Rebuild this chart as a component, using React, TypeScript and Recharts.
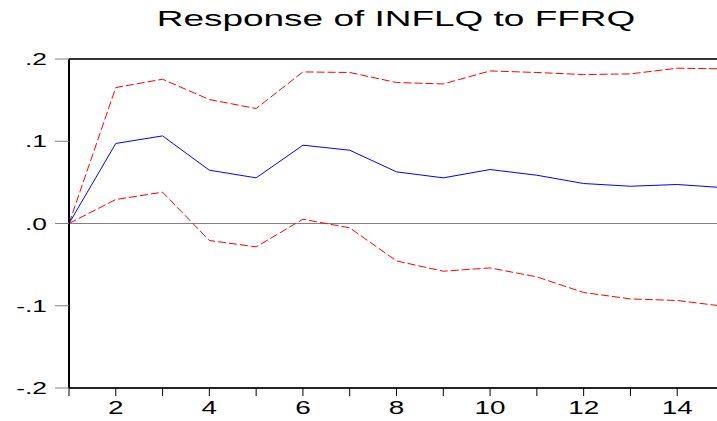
import React from 'react'
import { LineChart, Line, XAxis, YAxis, ReferenceLine } from 'recharts'

const periods = [1, 2, 3, 4, 5, 6, 7, 8, 9, 10, 11, 12, 13, 14, 15]
const response = [0, 0.0973, 0.1065, 0.0648, 0.0555, 0.0952, 0.0891, 0.0628, 0.0555, 0.0656, 0.0587, 0.0486, 0.0453, 0.0474, 0.0435]
const upperBand = [0, 0.1653, 0.1754, 0.1507, 0.1398, 0.1843, 0.1836, 0.1714, 0.1697, 0.1855, 0.1836, 0.1811, 0.1819, 0.1888, 0.188]
const lowerBand = [0, 0.0292, 0.0381, -0.0207, -0.0284, 0.0052, -0.0053, -0.0455, -0.058, -0.054, -0.0649, -0.0839, -0.0917, -0.0936, -0.1007]
const yTicks = [-0.2, -0.1, 0, 0.1, 0.2]
const yTickLabels = ['-.2', '-.1', '.0', '.1', '.2']

const data = periods.map((p, i) => ({
  period: p,
  response: response[i],
  upper: upperBand[i],
  lower: lowerBand[i],
}))

const font = '"Liberation Sans", Arial, sans-serif'
const stretch = 1.55

function YTick({ x, y, payload }: any) {
  const idx = yTicks.indexOf(payload.value)
  return (
    <text
      transform={`translate(${x},${y}) scale(${stretch},1)`}
      textAnchor="end"
      dy="0.355em"
      fontSize={17}
      fontFamily={font}
      fill="#000"
    >
      {idx >= 0 ? yTickLabels[idx] : ''}
    </text>
  )
}

function XTick({ x, y, payload }: any) {
  if (payload.value % 2 !== 0) return null
  return (
    <text
      transform={`translate(${x},${y}) scale(${stretch},1)`}
      textAnchor="middle"
      dy="0.71em"
      fontSize={18}
      fontFamily={font}
      fill="#000"
    >
      {payload.value}
    </text>
  )
}

export default function App() {
  return (
    <div style={{ position: 'absolute', left: 0, top: 0, width: 717, height: 421, overflow: 'hidden', background: '#fff' }}>
      <div
        style={{
          position: 'absolute',
          left: 396,
          top: 8,
          transform: 'translateX(-50%) scaleX(1.68)',
          whiteSpace: 'nowrap',
          fontFamily: font,
          fontSize: 22,
          lineHeight: '22px',
          color: '#000',
        }}
      >
        Response of INFLQ to FFRQ
      </div>
      <LineChart width={734} height={421} data={data} margin={{ top: 59, right: 10, bottom: 0, left: 0 }}>
        <XAxis
          dataKey="period"
          type="number"
          domain={[1, 15]}
          ticks={periods}
          interval={0}
          height={33}
          tickSize={8}
          tickMargin={5}
          axisLine={{ stroke: '#222', strokeWidth: 2 }}
          tickLine={{ stroke: '#000', strokeWidth: 1 }}
          tick={<XTick />}
        />
        <YAxis
          type="number"
          domain={[-0.2, 0.2]}
          ticks={yTicks}
          interval={0}
          width={69}
          tickSize={14}
          tickMargin={8}
          axisLine={{ stroke: '#000', strokeWidth: 2 }}
          tickLine={{ stroke: '#808080', strokeWidth: 1 }}
          tick={<YTick />}
        />
        <ReferenceLine y={0.2} stroke="#333" strokeWidth={2} />
        <ReferenceLine y={0} stroke="#808080" strokeWidth={1} />
        <Line type="linear" dataKey="upper" stroke="#ff0000" strokeWidth={1} strokeDasharray="8 3" dot={false} isAnimationActive={false} />
        <Line type="linear" dataKey="lower" stroke="#ff0000" strokeWidth={1} strokeDasharray="8 3" dot={false} isAnimationActive={false} />
        <Line type="linear" dataKey="response" stroke="#0000ff" strokeWidth={1} dot={false} isAnimationActive={false} />
      </LineChart>
    </div>
  )
}
